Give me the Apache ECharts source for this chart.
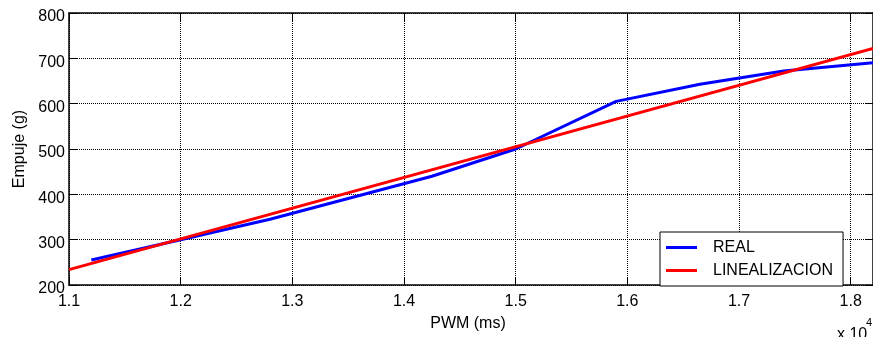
<!DOCTYPE html>
<html>
<head>
<meta charset="utf-8">
<script src="https://cdn.jsdelivr.net/npm/echarts@6/dist/echarts.min.js"></script>
<style>
	html, body { margin: 0; padding: 0; background: #fff; }
	#chart { width: 873px; height: 337px; }
</style>
</head>
<body>
<div id="chart"></div>
<script>
	// PWM (x 10^4) vs empuje (g)
	var realPwm = [11200, 12000, 12800, 14250, 15000, 15900, 16650, 17400, 18200];
	var realEmpuje = [255, 300, 345, 440, 500, 605, 643, 672, 690];
	var linPwm = [11000, 18200];
	var linEmpuje = [234, 722];
	var yTicks = [200, 300, 400, 500, 600, 700, 800];
	var xTickLabels = ['1.1', '1.2', '1.3', '1.4', '1.5', '1.6', '1.7', '1.8'];

	var fontFamily = 'Liberation Sans, Arial, sans-serif';

	function pairs(xs, ys) {
		var out = [];
		for (var i = 0; i < xs.length; i++) {
			out.push([xs[i], ys[i]]);
		}
		return out;
	}

	var chart = echarts.init(document.getElementById('chart'), null, { renderer: 'canvas' });

	var gridLine = {
		show: true,
		lineStyle: { color: '#000', width: 1, type: [1, 1] }
	};

	var option = {
		animation: false,
		backgroundColor: '#fff',
		textStyle: { fontFamily: fontFamily },
		grid: {
			left: 69,
			right: 0,
			top: 13,
			bottom: 46
		},
		legend: {
			left: 660,
			top: 232,
			orient: 'vertical',
			backgroundColor: '#fff',
			borderColor: '#000',
			borderWidth: 1,
			borderRadius: 0,
			padding: [6, 10, 6, 6],
			icon: 'rect',
			itemWidth: 31,
			itemHeight: 3,
			itemGap: 4,
			textStyle: {
				fontFamily: fontFamily,
				fontSize: 16,
				lineHeight: 16,
				color: '#000',
				padding: [3, 0, 0, 11]
			},
			data: ['REAL', 'LINEALIZACION']
		},
		xAxis: [{
			type: 'value',
			min: 11000,
			max: 18200,
			interval: 1000,
			name: 'PWM (ms)',
			nameLocation: 'middle',
			nameGap: 31,
			nameTextStyle: { fontFamily: fontFamily, fontSize: 16, color: '#000', padding: [0, 6, 0, 0] },
			axisLine: { show: true, lineStyle: { color: '#000', width: 1.5 } },
			axisTick: { show: true, inside: true, length: 8, lineStyle: { color: '#000' } },
			axisLabel: {
				margin: 9,
				fontFamily: fontFamily,
				fontSize: 16,
				color: '#000',
				showMaxLabel: false,
				formatter: function(v) {
					var idx = Math.round((v - 11000) / 1000);
					return xTickLabels[idx] || '';
				}
			},
			splitLine: gridLine
		}, {
			type: 'value',
			position: 'top',
			min: 11000,
			max: 18200,
			interval: 1000,
			axisLine: { show: true, lineStyle: { color: '#000', width: 1.5 } },
			axisTick: { show: true, inside: true, length: 8, lineStyle: { color: '#000' } },
			axisLabel: { show: false },
			splitLine: { show: false }
		}],
		yAxis: [{
			type: 'value',
			min: yTicks[0],
			max: yTicks[yTicks.length - 1],
			interval: 100,
			name: 'Empuje (g)',
			nameLocation: 'middle',
			nameGap: 41,
			nameTextStyle: { fontFamily: fontFamily, fontSize: 16, color: '#000' },
			axisLine: { show: true, lineStyle: { color: '#000', width: 1.5 } },
			axisTick: { show: true, inside: true, length: 8, lineStyle: { color: '#000' } },
			axisLabel: {
				margin: 4,
				fontFamily: fontFamily,
				fontSize: 16,
				color: '#000',
				verticalAlign: 'top',
				lineHeight: 8
			},
			splitLine: gridLine
		}, {
			type: 'value',
			position: 'right',
			min: yTicks[0],
			max: yTicks[yTicks.length - 1],
			interval: 100,
			axisLine: { show: true, lineStyle: { color: '#000', width: 1.5 } },
			axisTick: { show: true, inside: true, length: 8, lineStyle: { color: '#000' } },
			axisLabel: { show: false },
			splitLine: { show: false }
		}],
		graphic: [{
			type: 'text',
			left: 837,
			top: 327,
			style: { text: 'x 10', font: '16px ' + fontFamily, fill: '#000' }
		}, {
			type: 'text',
			left: 866,
			top: 317,
			style: { text: '4', font: '11px ' + fontFamily, fill: '#000' }
		}],
		series: [{
			name: 'REAL',
			type: 'line',
			symbol: 'none',
			color: '#0000ff',
			lineStyle: { color: '#0000ff', width: 3 },
			z: 3,
			data: pairs(realPwm, realEmpuje)
		}, {
			name: 'LINEALIZACION',
			type: 'line',
			symbol: 'none',
			color: '#ff0000',
			lineStyle: { color: '#ff0000', width: 3 },
			z: 4,
			data: pairs(linPwm, linEmpuje)
		}]
	};

	chart.setOption(option);
</script>
</body>
</html>
